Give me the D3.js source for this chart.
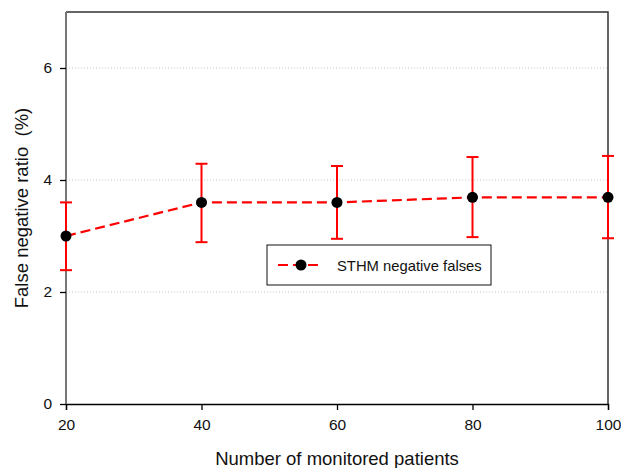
<!DOCTYPE html>
<html>
<head>
<meta charset="utf-8">
<script src="https://cdn.jsdelivr.net/npm/d3@7"></script>
<style>
  body { margin: 0; background: #fff; }
  text { font-family: "Liberation Sans", Arial, sans-serif; }
</style>
</head>
<body>
<svg id="chart" width="621" height="468"></svg>
<script>
// values
var patients = [20, 40, 60, 80, 100];
var ratio = [3.0, 3.6, 3.6, 3.69, 3.69];
var errLow = [2.39, 2.89, 2.95, 2.98, 2.96];
var errHigh = [3.6, 4.29, 4.25, 4.41, 4.43];
var xTicks = [20, 40, 60, 80, 100];
var yTicks = [0, 2, 4, 6];
var gridTicks = [2, 4, 6];

var svg = d3.select("#chart");
var margin = {top: 12, right: 13, bottom: 64, left: 66};
var width = 621 - margin.left - margin.right;
var height = 468 - margin.top - margin.bottom;

var x = d3.scaleLinear().domain([20, 100]).range([0, width]);
var y = d3.scaleLinear().domain([0, 7]).range([height, 0]);

var g = svg.append("g")
	.attr("transform", "translate(" + margin.left + "," + margin.top + ")");

// dotted grid lines
g.selectAll(".grid")
	.data(gridTicks)
	.enter()
	.append("line")
	.attr("x1", 0)
	.attr("x2", width)
	.attr("y1", function(d) { return y(d); })
	.attr("y2", function(d) { return y(d); })
	.attr("stroke", "#c8c8c8")
	.attr("stroke-width", 1)
	.attr("stroke-dasharray", "1,2");

// top and right frame
g.append("path")
	.attr("d", "M0,0H" + width + "V" + height)
	.attr("fill", "none")
	.attr("stroke", "#333")
	.attr("stroke-width", 1.5);

// x axis
var xAxis = g.append("g")
	.attr("transform", "translate(0," + height + ")")
	.call(d3.axisBottom(x).tickValues(xTicks).tickSize(6).tickPadding(9));
xAxis.select(".domain").attr("stroke", "#000").attr("stroke-width", 1.3);
xAxis.selectAll(".tick line").attr("stroke", "#000").attr("stroke-width", 1.3);
xAxis.selectAll("text").attr("font-size", 15.5).attr("fill", "#111")
	.attr("font-family", "Liberation Sans, Arial, sans-serif");

// y axis
var yAxis = g.append("g")
	.call(d3.axisLeft(y).tickValues(yTicks).tickFormat(d3.format("d")).tickSize(6).tickPadding(8));
yAxis.select(".domain").attr("stroke", "#777").attr("stroke-width", 2)
	.attr("d", "M0," + height + "V0");
yAxis.selectAll(".tick line").attr("stroke", "#000").attr("stroke-width", 1.3);
yAxis.selectAll("text").attr("font-size", 15.5).attr("fill", "#111")
	.attr("font-family", "Liberation Sans, Arial, sans-serif");

// axis titles
svg.append("text")
	.attr("x", margin.left + width / 2)
	.attr("y", 465)
	.attr("text-anchor", "middle")
	.attr("font-size", 18.5)
	.attr("fill", "#111")
	.text("Number of monitored patients");

svg.append("text")
	.attr("transform", "translate(28," + (margin.top + height / 2) + ") rotate(-90)")
	.attr("text-anchor", "middle")
	.attr("font-size", 18.5)
	.attr("fill", "#111")
	.style("white-space", "pre")
	.text("False negative ratio  (%)");

var data = patients.map(function(p, i) {
	return {x: p, y: ratio[i], lo: errLow[i], hi: errHigh[i]};
});

// error bars
var err = g.selectAll(".err")
	.data(data)
	.enter()
	.append("g")
	.attr("class", "err")
	.attr("stroke", "#ff0000")
	.attr("stroke-width", 2);

err.append("line")
	.attr("x1", function(d) { return x(d.x); })
	.attr("x2", function(d) { return x(d.x); })
	.attr("y1", function(d) { return y(d.lo); })
	.attr("y2", function(d) { return y(d.hi); });

err.append("line")
	.attr("x1", function(d) { return x(d.x) - 6; })
	.attr("x2", function(d) { return x(d.x) + 6; })
	.attr("y1", function(d) { return y(d.hi); })
	.attr("y2", function(d) { return y(d.hi); });

err.append("line")
	.attr("x1", function(d) { return x(d.x) - 6; })
	.attr("x2", function(d) { return x(d.x) + 6; })
	.attr("y1", function(d) { return y(d.lo); })
	.attr("y2", function(d) { return y(d.lo); });

// dashed line
var line = d3.line()
	.x(function(d) { return x(d.x); })
	.y(function(d) { return y(d.y); });

g.append("path")
	.datum(data)
	.attr("d", line)
	.attr("fill", "none")
	.attr("stroke", "#ff0000")
	.attr("stroke-width", 2.2)
	.attr("stroke-dasharray", "10,5");

// markers
g.selectAll(".dot")
	.data(data)
	.enter()
	.append("circle")
	.attr("cx", function(d) { return x(d.x); })
	.attr("cy", function(d) { return y(d.y); })
	.attr("r", 5.5)
	.attr("fill", "#000");

// legend
var legend = svg.append("g").attr("transform", "translate(267,245)");
legend.append("rect")
	.attr("width", 224)
	.attr("height", 40)
	.attr("fill", "#fff")
	.attr("stroke", "#111")
	.attr("stroke-width", 1);
legend.append("line")
	.attr("x1", 11)
	.attr("x2", 55)
	.attr("y1", 20)
	.attr("y2", 20)
	.attr("stroke", "#ff0000")
	.attr("stroke-width", 2.2)
	.attr("stroke-dasharray", "10,5");
legend.append("circle")
	.attr("cx", 34)
	.attr("cy", 20)
	.attr("r", 5.5)
	.attr("fill", "#000");
legend.append("text")
	.attr("x", 70)
	.attr("y", 26)
	.attr("font-size", 14.8)
	.attr("fill", "#111")
	.text("STHM negative falses");
</script>
</body>
</html>
